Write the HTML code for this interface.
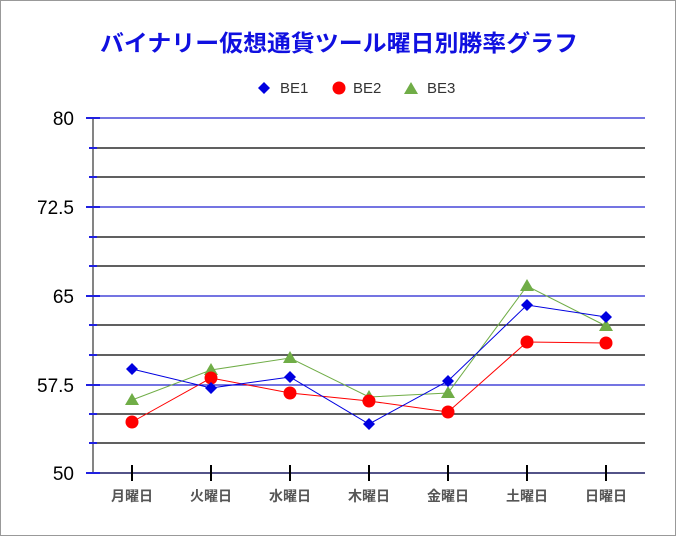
<!DOCTYPE html><html><head><meta charset="utf-8"><style>body{margin:0;background:#fff}svg{display:block}</style></head><body>
<svg width="676" height="536" xmlns="http://www.w3.org/2000/svg" font-family="'Liberation Sans','Noto Sans CJK JP',sans-serif">
<rect x="0.5" y="0.5" width="675" height="535" fill="#fff" stroke="#999"/>
<text x="339" y="51" text-anchor="middle" font-size="23" font-weight="bold" fill="#1010e0" textLength="478" lengthAdjust="spacingAndGlyphs">バイナリー仮想通貨ツール曜日別勝率グラフ</text>
<g font-size="15" fill="#333">
<path d="M264 82l6 6-6 6-6-6z" fill="#0000e0"/><text x="280" y="93">BE1</text>
<circle cx="339" cy="88" r="6.5" fill="#f00"/><text x="353" y="93">BE2</text>
<path d="M411 82l7 12h-14z" fill="#70ad47"/><text x="427" y="93">BE3</text>
</g>
<g stroke-width="1.2">
<line x1="93" y1="118" x2="645" y2="118" stroke="#2020d0"/>
<line x1="93" y1="148" x2="645" y2="148" stroke="#000"/>
<line x1="93" y1="177" x2="645" y2="177" stroke="#000"/>
<line x1="93" y1="207" x2="645" y2="207" stroke="#2020d0"/>
<line x1="93" y1="237" x2="645" y2="237" stroke="#000"/>
<line x1="93" y1="266" x2="645" y2="266" stroke="#000"/>
<line x1="93" y1="296" x2="645" y2="296" stroke="#2020d0"/>
<line x1="93" y1="325" x2="645" y2="325" stroke="#000"/>
<line x1="93" y1="355" x2="645" y2="355" stroke="#000"/>
<line x1="93" y1="385" x2="645" y2="385" stroke="#2020d0"/>
<line x1="93" y1="414" x2="645" y2="414" stroke="#000"/>
<line x1="93" y1="443" x2="645" y2="443" stroke="#000"/>
<line x1="93" y1="473" x2="645" y2="473" stroke="#1a1a60" stroke-width="1.5"/>
<line x1="93" y1="118" x2="93" y2="473" stroke="#333"/>
</g>
<g stroke="#2020e0" stroke-width="2">
<path d="M86 118h14M86 207h14M86 296h14M86 385h14M86 473h14"/>
<path d="M89 148h8M89 177h8M89 237h8M89 266h8M89 325h8M89 355h8M89 414h8M89 443h8"/>
</g>
<g stroke="#000" stroke-width="2"><path d="M132 465v16M211 465v16M290 465v16M369 465v16M448 465v16M527 465v16M606 465v16"/></g>
<g font-size="19" fill="#000" text-anchor="end">
<text x="74" y="125">80</text><text x="74" y="214">72.5</text><text x="74" y="303">65</text><text x="74" y="392">57.5</text><text x="74" y="480">50</text>
</g>
<g font-size="14" font-weight="bold" fill="#555" text-anchor="middle">
<text x="132" y="501">月曜日</text><text x="211" y="501">火曜日</text><text x="290" y="501">水曜日</text><text x="369" y="501">木曜日</text><text x="448" y="501">金曜日</text><text x="527" y="501">土曜日</text><text x="606" y="501">日曜日</text>
</g>
<polyline fill="none" stroke="#70ad47" stroke-width="1" points="132,400 211,370 290,358 369,397 448,393 527,286 606,326"/>
<polyline fill="none" stroke="#f00" stroke-width="1" points="132,422 211,378 290,393 369,401 448,412 527,342 606,343"/>
<polyline fill="none" stroke="#0000e0" stroke-width="1" points="132,369 211,388 290,377 369,424 448,381 527,305 606,317"/>
<g fill="#70ad47"><path d="M132 393l7 12h-14zM211 363l7 12h-14zM290 351l7 12h-14zM369 390l7 12h-14zM448 386l7 12h-14zM527 279l7 12h-14zM606 319l7 12h-14z"/></g>
<g fill="#f00"><circle cx="132" cy="422" r="6.5"/><circle cx="211" cy="378" r="6.5"/><circle cx="290" cy="393" r="6.5"/><circle cx="369" cy="401" r="6.5"/><circle cx="448" cy="412" r="6.5"/><circle cx="527" cy="342" r="6.5"/><circle cx="606" cy="343" r="6.5"/></g>
<g fill="#0000e0"><path d="M132 363l6 6-6 6-6-6zM211 382l6 6-6 6-6-6zM290 371l6 6-6 6-6-6zM369 418l6 6-6 6-6-6zM448 375l6 6-6 6-6-6zM527 299l6 6-6 6-6-6zM606 311l6 6-6 6-6-6z"/></g>
</svg>
</body></html>
